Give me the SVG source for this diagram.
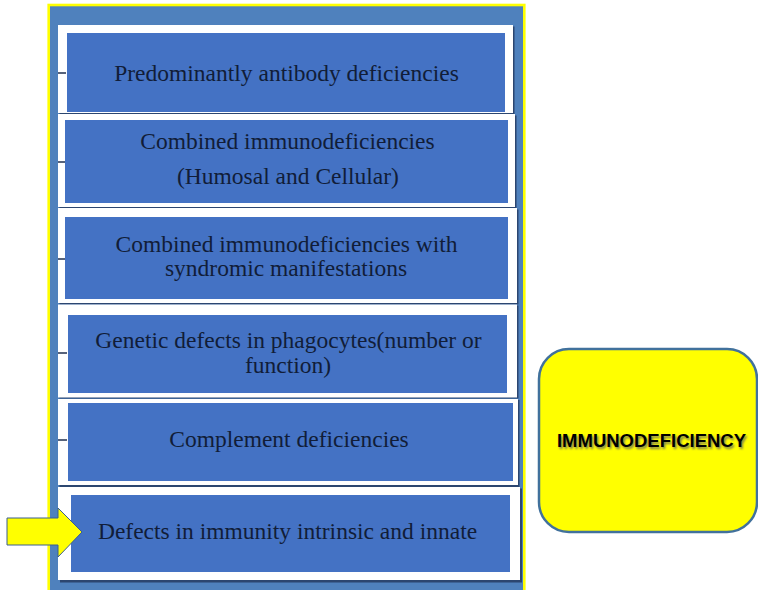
<svg xmlns="http://www.w3.org/2000/svg" width="758" height="590" viewBox="0 0 758 590">
  <defs>
    <style>
      .card { fill: #ffffff; }
      .shade { fill: #2c4670; }
      .band { fill: #4472c4; }
      .label { font-family: "Liberation Serif", "Times New Roman", serif; font-size: 23.5px; fill: #111d38; text-anchor: middle; }
      .tick { stroke: #1f2f4f; stroke-width: 1.5; }
      .title { font-family: "Liberation Sans", Arial, sans-serif; font-weight: bold; font-size: 18.5px; text-anchor: middle; }
    </style>
    <filter id="soft" x="-10%" y="-30%" width="120%" height="160%">
      <feGaussianBlur stdDeviation="0.8"/>
    </filter>
  </defs>

  <rect width="758" height="590" fill="#ffffff"/>

  <!-- framed panel holding the category list -->
  <rect id="panel" x="48.7" y="5" width="475.6" height="600" fill="#4f81bd" stroke="#ffff00" stroke-width="2.6"/>

  <g id="card-antibody">
    <rect class="shade" x="59.5" y="26.5" width="455" height="88"/>
    <rect class="card" x="58" y="25" width="455" height="88"/>
    <rect class="band" x="67" y="33" width="438" height="79"/>
    <text class="label" x="286.5" y="81">Predominantly antibody deficiencies</text>
  </g>

  <g id="card-combined">
    <rect class="shade" x="59.5" y="115.5" width="457" height="93"/>
    <rect class="card" x="58" y="114" width="457" height="93"/>
    <rect class="band" x="65" y="120" width="443" height="83"/>
    <text class="label" x="287.5" y="149">Combined immunodeficiencies</text>
    <text class="label" x="288" y="184">(Humosal and Cellular)</text>
  </g>

  <g id="card-syndromic">
    <rect class="shade" x="59.5" y="209.5" width="459" height="95"/>
    <rect class="card" x="58" y="208" width="459" height="95"/>
    <rect class="band" x="65" y="217" width="443" height="82"/>
    <text class="label" x="286.5" y="252">Combined immunodeficiencies with</text>
    <text class="label" x="286" y="276">syndromic manifestations</text>
  </g>

  <g id="card-phagocytes">
    <rect class="shade" x="59.5" y="305.5" width="459" height="93"/>
    <rect class="card" x="58" y="304.5" width="459" height="93"/>
    <rect class="band" x="68" y="315" width="439" height="78"/>
    <text class="label" x="288.5" y="348">Genetic defects in phagocytes(number or</text>
    <text class="label" x="288" y="373">function)</text>
  </g>

  <g id="card-complement">
    <rect class="shade" x="59.5" y="400" width="460" height="87"/>
    <rect class="card" x="58" y="399" width="460" height="86"/>
    <rect class="band" x="68" y="403" width="445" height="78"/>
    <text class="label" x="289" y="447">Complement deficiencies</text>
  </g>

  <g id="card-innate">
    <rect class="shade" x="60" y="488.5" width="462" height="94"/>
    <rect class="card" x="58" y="487" width="462" height="93"/>
    <rect class="band" x="71" y="495" width="439" height="77"/>
    <text class="label" x="287.5" y="539">Defects in immunity intrinsic and innate</text>
  </g>

  <g id="connectors">
    <line class="tick" x1="58" y1="73" x2="66" y2="73"/>
    <line class="tick" x1="58" y1="162" x2="65" y2="162"/>
    <line class="tick" x1="58" y1="259" x2="65" y2="259"/>
    <line class="tick" x1="58" y1="353" x2="67" y2="353"/>
    <line class="tick" x1="58" y1="440" x2="67" y2="440"/>
  </g>

  <g id="pointer">
    <polygon points="7,518 58,518 58,508 82,532 58,557 58,545 7,545" fill="#ffff00" stroke="#3b5e8f" stroke-width="1"/>
  </g>

  <g id="immunodeficiency">
    <rect x="539" y="349" width="218" height="183" rx="30" ry="30" fill="#ffff00" stroke="#41719c" stroke-width="2.5"/>
    <text class="title" x="653" y="448.5" fill="#7a7a50" filter="url(#soft)">IMMUNODEFICIENCY</text>
    <text class="title" x="651.5" y="447" fill="#000000">IMMUNODEFICIENCY</text>
  </g>
</svg>
